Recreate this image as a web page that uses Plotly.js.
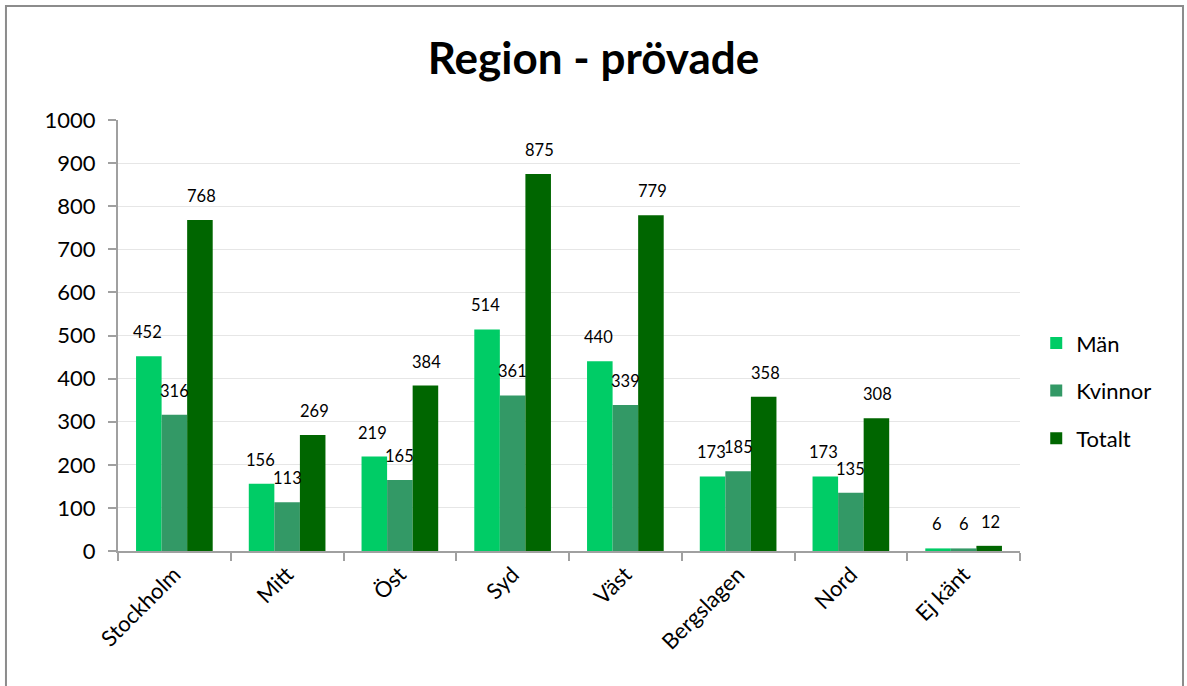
<!DOCTYPE html>
<html>
<head>
<meta charset="utf-8">
<script src="https://cdn.plot.ly/plotly-3.0.1.min.js"></script>
<style>html,body{margin:0;padding:0;background:#fff;}#chart{width:1187px;height:686px;}</style>
</head>
<body>
<div id="chart"></div>
<script>
const categories = ["Stockholm", "Mitt", "Öst", "Syd", "Väst", "Bergslagen", "Nord", "Ej känt"];
const man = [452, 156, 219, 514, 440, 173, 173, 6];
const kvinnor = [316, 113, 165, 361, 339, 185, 135, 6];
const totalt = [768, 269, 384, 875, 779, 358, 308, 12];
const seriesNames = ["Män", "Kvinnor", "Totalt"];
const colors = ["#00CC66", "#339966", "#006600"];

const font = "Lato, 'Open Sans', sans-serif";
const allSeries = [man, kvinnor, totalt];
const traces = allSeries.map((vals, i) => ({
  type: "bar",
  name: seriesNames[i],
  legendgroup: "g" + i,
  x: categories,
  y: vals,
  marker: {color: colors[i]},
  hoverinfo: "x+y+name"
}));

// data labels placed through the axis scales (category + value), offset per series within the group
const labelStep = 27;
const annotations = [];
allSeries.forEach((vals, i) => {
  vals.forEach((v, j) => {
    annotations.push({
      xref: "x", yref: "y", x: categories[j], y: v,
      text: String(v), showarrow: false,
      xshift: (i - 1) * labelStep, yshift: 24,
      yanchor: "middle", xanchor: "center",
      font: {family: font, size: 16.5, color: "#000"}
    });
  });
});

const layout = {
  width: 1187, height: 686,
  margin: {l: 118, r: 167, t: 120, b: 135},
  paper_bgcolor: "#fff", plot_bgcolor: "#fff",
  title: {text: "<b>Region - prövade</b>", font: {family: font, size: 44, color: "#000"}, x: 0.5, xanchor: "center", y: 0.915, yanchor: "middle"},
  barmode: "group",
  bargap: 0.32,
  bargroupgap: 0,
  showlegend: true,
  legend: {x: 1.018, y: 0.372, xanchor: "left", yanchor: "middle", font: {family: font, size: 22, color: "#000"}, itemwidth: 30, tracegroupgap: 16},
  xaxis: {
    type: "category",
    showline: true, linecolor: "#A0A0A0", linewidth: 2,
    ticks: "outside", ticklen: 8, tickcolor: "#A0A0A0", tickwidth: 2,
    tickson: "boundaries",
    tickangle: -45,
    tickfont: {family: font, size: 22, color: "#000"},
    showgrid: false
  },
  yaxis: {
    range: [0, 1000], dtick: 100,
    showline: true, linecolor: "#A0A0A0", linewidth: 2,
    ticks: "outside", ticklen: 8, tickcolor: "#A0A0A0", tickwidth: 2,
    ticklabelstandoff: 8,
    tickfont: {family: font, size: 22, color: "#000"},
    showgrid: true, gridcolor: "#E6E6E6", gridwidth: 1,
    zeroline: false
  },
  annotations: annotations,
  shapes: [{
    type: "rect", xref: "paper", yref: "paper",
    x0: -0.1242, x1: 1.1807, y0: -0.4, y1: 1.2645,
    line: {color: "#8C8C8C", width: 2}, fillcolor: "rgba(0,0,0,0)", layer: "below"
  }]
};

Plotly.newPlot("chart", traces, layout, {displayModeBar: false, staticPlot: true});
</script>
</body>
</html>
